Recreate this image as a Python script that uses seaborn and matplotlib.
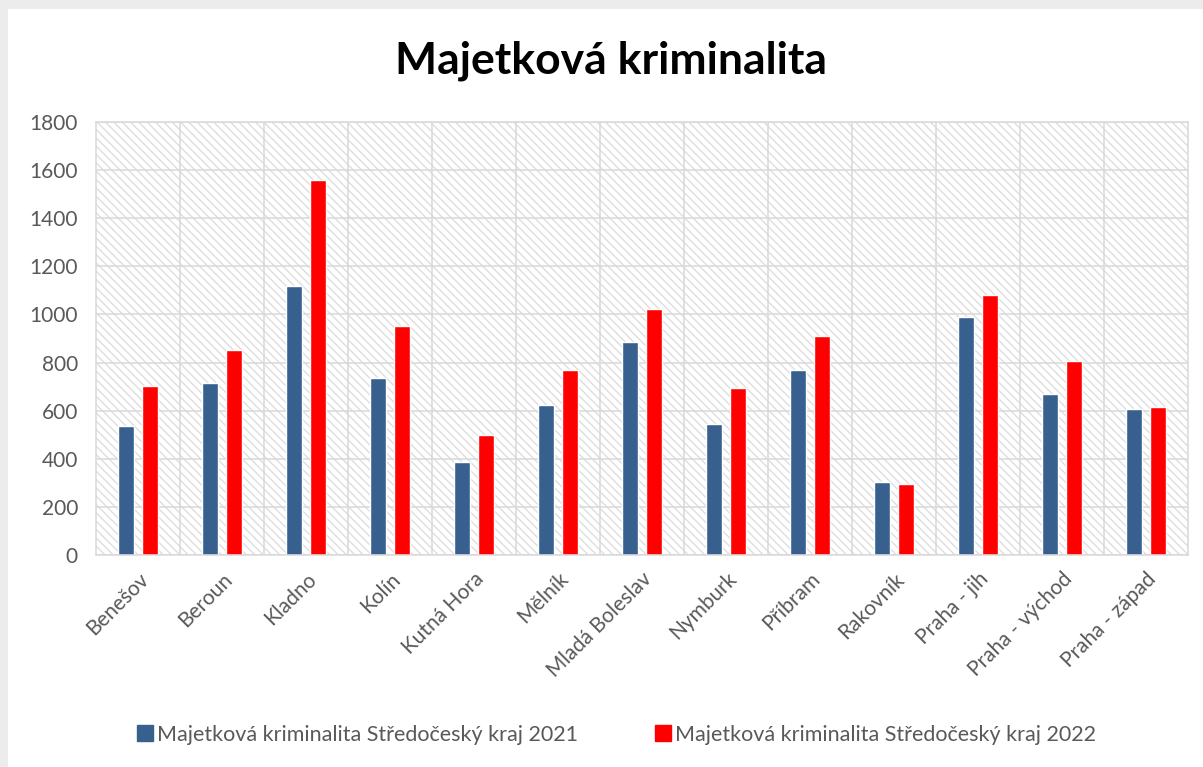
import pandas as pd
import seaborn as sns
import matplotlib.pyplot as plt
from matplotlib.patches import Rectangle
from matplotlib.lines import Line2D

okresy = ["Benešov", "Beroun", "Kladno", "Kolín", "Kutná Hora", "Mělník",
          "Mladá Boleslav", "Nymburk", "Příbram", "Rakovník", "Praha - jih",
          "Praha - východ", "Praha - západ"]
hodnoty_2021 = [536, 717, 1118, 735, 386, 623, 884, 544, 768, 303, 991, 669, 605]
hodnoty_2022 = [703, 851, 1560, 951, 498, 768, 1021, 694, 909, 295, 1080, 807, 616]
serie = ["Majetková kriminalita Středočeský kraj 2021",
         "Majetková kriminalita Středočeský kraj 2022"]
barvy = ["#37608f", "#ff0000"]

sns.set_style("white")
plt.rcParams["font.family"] = ["Lato", "DejaVu Sans"]

df = pd.DataFrame({
    "okres": okresy * 2,
    "pocet": hodnoty_2021 + hodnoty_2022,
    "serie": [serie[0]] * len(okresy) + [serie[1]] * len(okresy),
})

fig = plt.figure(figsize=(12.03, 7.67), dpi=100, facecolor="#ececec")
# bily panel grafu (sedy okraj vlevo a nahore)
fig.add_artist(Rectangle((8 / 1203, 0), 1, 1 - 9 / 767, transform=fig.transFigure,
                         facecolor="white", edgecolor="none", zorder=-5))

ax = fig.add_axes([96 / 1203, 1 - 555 / 767, (1188 - 96) / 1203, (555 - 122) / 767])
ax.set_facecolor("white")
# srafovane pozadi
ax.add_patch(Rectangle((0, 0), 1, 1, transform=ax.transAxes, facecolor="white",
                       edgecolor="#dedede", linewidth=0, hatch="\\\\\\\\", zorder=0.1))

sns.barplot(data=df, x="okres", y="pocet", hue="serie", palette=barvy,
            width=0.567, gap=0.31, saturation=1, ax=ax, legend=False, zorder=2)

ax.set_ylim(0, 1800)
ax.set_yticks(range(0, 1801, 200))
ax.set_xlim(-0.5, len(okresy) - 0.5)
ax.set_xticks([i + 0.5 for i in range(len(okresy) - 1)], minor=True)
ax.grid(True, which="major", axis="y", color="#d9d9d9", linewidth=1.1)
ax.grid(True, which="minor", axis="x", color="#d9d9d9", linewidth=1.1)
ax.set_axisbelow(True)
for s in ax.spines.values():
    s.set_color("#d9d9d9")
    s.set_linewidth(1.1)

ax.set_xlabel("")
ax.set_ylabel("")
ax.tick_params(axis="both", which="both", length=0, labelsize=15, colors="#595959")
ax.tick_params(axis="y", pad=13)
ax.tick_params(axis="x", pad=10)
for lab in ax.get_xticklabels():
    lab.set_rotation(45)
    lab.set_ha("right")
    lab.set_rotation_mode("anchor")

fig.text(611 / 1203, 1 - 61 / 767, "Majetková kriminalita", ha="center", va="center",
         fontsize=32, fontweight="bold", color="black")

handles = [Line2D([0], [0], marker="s", linestyle="none", markersize=12,
                  markerfacecolor=c, markeredgecolor=c) for c in barvy]
fig.legend(handles, serie, loc="center", bbox_to_anchor=(617 / 1203, 1 - 735 / 767),
           ncol=2, frameon=False, fontsize=15.5, labelcolor="#595959",
           handlelength=0.7, handletextpad=0.2, columnspacing=3.6)

fig.savefig("out.png", dpi=100, facecolor=fig.get_facecolor())
